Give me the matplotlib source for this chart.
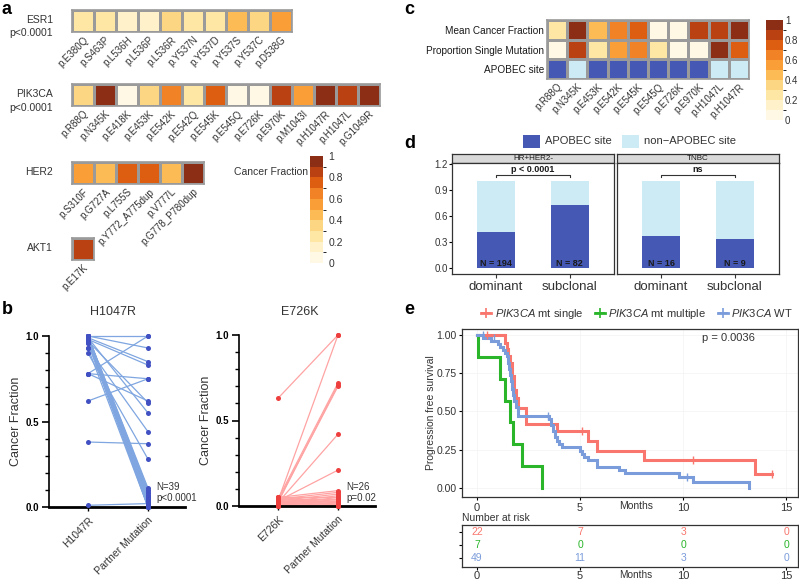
import numpy as np
import matplotlib
matplotlib.use('Agg')
import matplotlib.pyplot as plt
from matplotlib.colors import ListedColormap, BoundaryNorm
from matplotlib.patches import Rectangle
from matplotlib.lines import Line2D

plt.rcParams['font.family'] = ['Liberation Sans', 'DejaVu Sans']
plt.rcParams['mathtext.fontset'] = 'custom'
plt.rcParams['mathtext.it'] = 'Liberation Sans:italic'
plt.rcParams['mathtext.rm'] = 'Liberation Sans'

W, H = 799, 580

# ---- panel a data (cancer fraction per mutation)
esr1_labels = ['p.E380Q', 'p.S463P', 'p.L536H', 'p.L536P', 'p.L536R', 'p.Y537N',
               'p.Y537D', 'p.Y537S', 'p.Y537C', 'p.D538G']
esr1_vals = [0.25, 0.25, 0.15, 0.1, 0.35, 0.25, 0.25, 0.45, 0.35, 0.55]
pik3ca_labels = ['p.R88Q', 'p.N345K', 'p.E418K', 'p.E453K', 'p.E542K', 'p.E542Q',
                 'p.E545K', 'p.E545Q', 'p.E726K', 'p.E970K', 'p.M1043I', 'p.H1047R',
                 'p.H1047L', 'p.G1049R']
pik3ca_vals = [0.35, 0.95, 0.05, 0.35, 0.65, 0.25, 0.75, 0.05, 0.05, 0.85, 0.55,
               0.95, 0.85, 0.95]
her2_labels = ['p.S310F', 'p.G727A', 'p.L755S', 'p.Y772_A775dup', 'p.V777L',
               'p.G778_P780dup']
her2_vals = [0.55, 0.45, 0.75, 0.75, 0.45, 0.95]
akt1_labels = ['p.E17K']
akt1_vals = [0.85]

# ---- panel b data (paired cancer fractions)
h1047r_pre = [1.00, 1.00, 0.99, 0.98, 0.97, 0.99, 0.93, 0.90, 0.78, 0.78, 0.78, 0.62,
              0.38, 0.01,
              1.00, 1.00, 0.99, 0.99, 1.00, 0.98, 0.97, 1.00, 0.99, 0.98, 1.00, 0.97,
              0.96, 1.00, 0.99, 0.98, 1.00, 0.97, 0.99, 1.00, 0.98, 0.96, 0.99, 1.00,
              0.93]
h1047r_post = [1.00, 0.93, 0.85, 0.83, 0.61, 0.55, 0.44, 0.28, 1.00, 0.75, 0.62, 0.75,
               0.37, 0.02,
               0.11, 0.10, 0.09, 0.08, 0.07, 0.06, 0.05, 0.05, 0.04, 0.04, 0.03, 0.03,
               0.02, 0.02, 0.01, 0.01, 0.01, 0.00, 0.00, 0.00, 0.02, 0.01, 0.03, 0.06,
               0.00]
e726k_pre = [0.63, 0.03, 0.04, 0.02, 0.03, 0.02, 0.03,
             0.05, 0.04, 0.03, 0.02, 0.05, 0.01, 0.04, 0.00, 0.03, 0.02, 0.01, 0.04,
             0.00, 0.03, 0.02, 0.01, 0.05, 0.00, 0.04]
e726k_post = [1.00, 1.00, 0.72, 0.71, 0.70, 0.42, 0.21,
              0.09, 0.08, 0.07, 0.06, 0.05, 0.05, 0.04, 0.04, 0.03, 0.03, 0.02, 0.02,
              0.01, 0.01, 0.00, 0.00, 0.02, 0.00, 0.01]

# ---- panel c data
c_cols = ['p.R88Q', 'p.N345K', 'p.E453K', 'p.E542K', 'p.E545K', 'p.E545Q', 'p.E726K',
          'p.E970K', 'p.H1047L', 'p.H1047R']
c_rows = ['Mean Cancer Fraction', 'Proportion Single Mutation', 'APOBEC site']
mean_cf = [0.3, 0.95, 0.4, 0.7, 0.75, 0.05, 0.05, 0.8, 0.85, 0.95]
prop_single = [0.05, 0.85, 0.25, 0.55, 0.65, 0.25, 0.05, 0.05, 0.95, 0.75]
apobec = [1, 0, 1, 1, 1, 1, 1, 1, 0, 0]

# ---- panel d data
d_groups = ['dominant', 'subclonal']
hr_apobec = [0.41, 0.73]
tnbc_apobec = [0.375, 0.333]
hr_n = ['N = 194', 'N = 82']
tnbc_n = ['N = 16', 'N = 9']

# ---- panel e data (Kaplan-Meier steps)
single_t = [0, 1.35, 1.45, 1.5, 1.6, 1.7, 1.8, 1.9, 2.0, 2.4, 3.9, 5.4, 5.8, 8.1, 13.5, 14.3]
single_s = [1.0, 0.95, 0.91, 0.86, 0.82, 0.73, 0.64, 0.59, 0.52, 0.42, 0.37, 0.31, 0.24,
            0.18, 0.09, 0.09]
multi_t = [0, 0.05, 1.1, 1.35, 1.6, 1.75, 2.2, 3.15]
multi_s = [1.0, 0.857, 0.714, 0.571, 0.429, 0.286, 0.143, 0.0]
wt_t = [0, 0.3, 0.7, 1.0, 1.1, 1.25, 1.35, 1.45, 1.5, 1.55, 1.6, 1.65, 1.7, 1.75, 1.8,
        1.9, 2.0, 3.5, 3.6, 3.7, 3.8, 3.9, 4.0, 4.1, 5.0, 5.1, 5.2, 5.4, 5.8, 6.9, 7.2,
        9.8, 10.5, 13.2]
wt_s = [1.0, 0.98, 0.96, 0.94, 0.92, 0.90, 0.88, 0.86, 0.82, 0.78, 0.74, 0.70, 0.65,
        0.61, 0.57, 0.53, 0.47, 0.45, 0.41, 0.37, 0.33, 0.31, 0.29, 0.27, 0.24, 0.22,
        0.20, 0.18, 0.14, 0.12, 0.10, 0.07, 0.04, 0.0]
single_cens_t = [0.5, 5.1, 10.5, 14.3]
single_cens_s = [1.0, 0.37, 0.18, 0.09]
wt_cens_t = [0.3, 0.8, 3.45, 10.2]
wt_cens_s = [1.0, 0.98, 0.47, 0.07]
risk_times = [0, 5, 10, 15]
risk_single = [22, 7, 3, 0]
risk_multi = [7, 0, 0, 0]
risk_wt = [49, 11, 3, 0]

frac_cmap = ListedColormap(['#FFF8E4', '#FFF2CA', '#FEE7A4', '#FDD684', '#FDBB56',
                            '#FA9E38', '#F28226', '#DD5E10', '#BA4212', '#8B2E15'])
frac_norm = BoundaryNorm(np.linspace(0, 1, 11), 10)
ap_dark, ap_light = '#4558B3', '#CCEBF5'
c_red, c_green, c_blue = '#F8766D', '#2AB52A', '#7B9CDB'
txt = '#333333'

fig = plt.figure(figsize=(W / 100, H / 100), dpi=100)


def px_axes(x0, y0, x1, y1):
    return fig.add_axes([x0 / W, 1 - y1 / H, (x1 - x0) / W, (y1 - y0) / H])


def ftext(x, y, s, **kw):
    return fig.text(x / W, 1 - y / H, s, **kw)


def heat_row(x0, y0, labels, vals):
    n = len(vals)
    ax = px_axes(x0, y0, x0 + 22 * n, y0 + 22)
    m = ax.pcolormesh(np.array([vals]), cmap=frac_cmap, norm=frac_norm,
                      edgecolors='#9a9a9a', linewidth=1.0)
    ax.set_xlim(0, n)
    ax.set_ylim(0, 1)
    ax.set_xticks(np.arange(n) + 0.5)
    ax.set_xticklabels(labels, rotation=45, ha='right', va='top', rotation_mode='anchor',
                       fontsize=7, color=txt)
    ax.set_yticks([])
    ax.tick_params(length=0, pad=2)
    for s in ax.spines.values():
        s.set_color('#9a9a9a')
        s.set_linewidth(1.2)
    return m


# ---------------- panel a
ftext(2, 10, 'a', fontsize=13, fontweight='bold', va='center')
heat_row(72, 10, esr1_labels, esr1_vals)
ftext(53, 20, 'ESR1', fontsize=7.5, ha='right', va='center', color=txt)
ftext(53, 33, 'p<0.0001', fontsize=7.5, ha='right', va='center', color=txt)
heat_row(72, 84, pik3ca_labels, pik3ca_vals)
ftext(53, 94, 'PIK3CA', fontsize=7.5, ha='right', va='center', color=txt)
ftext(53, 108, 'p<0.0001', fontsize=7.5, ha='right', va='center', color=txt)
heat_row(72, 162, her2_labels, her2_vals)
ftext(53, 172, 'HER2', fontsize=7.5, ha='right', va='center', color=txt)
mesh = heat_row(72, 238, akt1_labels, akt1_vals)
ftext(53, 248, 'AKT1', fontsize=7.5, ha='right', va='center', color=txt)

cax = px_axes(310, 156, 323, 263)
cb = fig.colorbar(mesh, cax=cax, ticks=[0, 0.2, 0.4, 0.6, 0.8, 1])
cb.ax.set_yticklabels(['0', '0.2', '0.4', '0.6', '0.8', '1'])
cb.ax.tick_params(length=0, labelsize=7.5, pad=4, labelcolor=txt)
cb.outline.set_visible(False)
ftext(234, 172, 'Cancer Fraction', fontsize=7.5, va='center', color=txt)

# ---------------- panel b
ftext(2, 310, 'b', fontsize=13, fontweight='bold', va='center')


def pair_plot(box, pre, post, xlab, line_c, pt_c, title, tx, note):
    ax = px_axes(*box)
    for a, b in zip(pre, post):
        ax.plot([0, 1], [a, b], color=line_c, lw=0.9, zorder=1, clip_on=False)
    ax.scatter(np.zeros(len(pre)), pre, s=13, color=pt_c, zorder=3, clip_on=False, lw=0)
    ax.scatter(np.ones(len(post)), post, s=13, color=pt_c, zorder=3, clip_on=False, lw=0)
    ax.set_ylim(0, 1)
    bx = box[2] - box[0]
    ax.set_xlim(-0.65, -0.65 + bx / 60.0)
    for s in ['top', 'right']:
        ax.spines[s].set_visible(False)
    ax.spines['left'].set_linewidth(1.2)
    ax.spines['bottom'].set_linewidth(2.0)
    ax.set_yticks([0, 0.5, 1.0])
    ax.set_yticklabels(['0.0', '0.5', '1.0'], fontweight='bold', fontsize=7)
    ax.set_yticks(np.arange(0, 1.01, 0.1), minor=True)
    ax.tick_params(axis='y', which='major', length=5, width=1.2, pad=2)
    ax.tick_params(axis='y', which='minor', length=3, width=1.0)
    ax.set_xticks([0, 1])
    ax.set_xticklabels(xlab, rotation=45, ha='right', va='top', rotation_mode='anchor',
                       fontsize=7.5, color=txt)
    ax.tick_params(axis='x', length=3, width=1.0, pad=3)
    ax.set_ylabel('Cancer Fraction', fontsize=9, color=txt, labelpad=3)
    ftext(tx, 312, title, fontsize=9, ha='center', va='center', color=txt)
    ftext(box[0] + 107, 487, note[0], fontsize=7, va='center', color=txt)
    ftext(box[0] + 107, 498, note[1], fontsize=7, va='center', color=txt)


pair_plot((49, 336, 185, 507), h1047r_pre, h1047r_post, ['H1047R', 'Partner Mutation'],
          '#7FA6E0', '#4150C2', 'H1047R', 113, ['N=39', 'p<0.0001'])
pair_plot((239, 335, 375, 506), e726k_pre, e726k_post, ['E726K', 'Partner Mutation'],
          '#FFA3A3', '#EE3F3F', 'E726K', 300, ['N=26', 'p=0.02'])

# ---------------- panel c
ftext(404, 10, 'c', fontsize=13, fontweight='bold', va='center')
axc = px_axes(547, 20, 749, 79)
cm = axc.pcolormesh(np.arange(11), np.arange(3), np.array([mean_cf, prop_single]),
                    cmap=frac_cmap, norm=frac_norm, edgecolors='#9a9a9a', linewidth=1.0)
axc.pcolormesh(np.arange(11), np.array([2, 3]), np.array([apobec]),
               cmap=ListedColormap([ap_light, ap_dark]), vmin=0, vmax=1,
               edgecolors='#9a9a9a', linewidth=1.0)
axc.set_xlim(0, 10)
axc.set_ylim(3, 0)
axc.set_yticks([0.5, 1.5, 2.5])
axc.set_yticklabels(c_rows, fontsize=7.2, color='#1a1a1a')
axc.set_xticks(np.arange(10) + 0.5)
axc.set_xticklabels(c_cols, rotation=45, ha='right', va='top', rotation_mode='anchor',
                    fontsize=7, color=txt)
axc.tick_params(length=0, pad=2)
for s in axc.spines.values():
    s.set_color('#9a9a9a')
    s.set_linewidth(1.2)
cax2 = px_axes(766, 20, 783, 120)
cb2 = fig.colorbar(cm, cax=cax2, ticks=[0, 0.2, 0.4, 0.6, 0.8, 1])
cb2.ax.set_yticklabels(['0', '0.2', '0.4', '0.6', '0.8', '1'])
cb2.ax.tick_params(length=0, labelsize=7, pad=1.5, labelcolor=txt)
cb2.outline.set_visible(False)

# ---------------- panel d
ftext(404, 143, 'd', fontsize=13, fontweight='bold', va='center')
for (x0, col, lab) in [(523, ap_dark, 'APOBEC site'), (622, ap_light, 'non\u2212APOBEC site')]:
    fig.add_artist(Rectangle((x0 / W, 1 - 148 / H), 17 / W, 13 / H, facecolor=col,
                             edgecolor='none', transform=fig.transFigure))
    ftext(x0 + 22, 141, lab, fontsize=8, va='center', color=txt)

for i, (x0, x1, strip, vals, ns, sig) in enumerate([
        (452, 614, 'HR+HER2-', hr_apobec, hr_n, 'p < 0.0001'),
        (617, 779, 'TNBC', tnbc_apobec, tnbc_n, 'ns')]):
    axs = px_axes(x0, 154, x1, 163)
    axs.set_facecolor('#D9D9D9')
    axs.set_xticks([])
    axs.set_yticks([])
    for s in axs.spines.values():
        s.set_color('#333333')
        s.set_linewidth(0.9)
    axs.text(0.5, 0.5, strip, fontsize=5.8, ha='center', va='center', color='#1a1a1a',
             transform=axs.transAxes)
    ax = px_axes(x0, 163, x1, 274)
    xs = np.arange(1, 3)
    ax.bar(xs, [1, 1], width=0.52, color=ap_light)
    ax.bar(xs, vals, width=0.52, color=ap_dark)
    for xi, n in zip(xs, ns):
        ax.text(xi, 0.0, n, fontsize=6.5, fontweight='bold', ha='center', va='bottom',
                color='#1a1a1a')
    ax.plot([1, 1, 2, 2], [1.05, 1.075, 1.075, 1.05], color='#333333', lw=0.8)
    ax.text(1.5, 1.085, sig, fontsize=6.5, fontweight='bold', ha='center', va='bottom',
            color='#1a1a1a')
    ax.set_xlim(0.4, 2.6)
    ax.set_ylim(-0.069, 1.212)
    ax.set_xticks(xs)
    ax.set_xticklabels(d_groups, fontsize=9.5, color=txt)
    ax.tick_params(axis='x', length=3, pad=2, color='#333333')
    ax.set_yticks([0, 0.3, 0.6, 0.9, 1.2])
    if i == 0:
        ax.set_yticklabels(['0.0', '0.3', '0.6', '0.9', '1.2'], fontsize=7, color=txt)
        ax.tick_params(axis='y', length=2, pad=1)
    else:
        ax.set_yticklabels([])
        ax.tick_params(axis='y', length=0)
    for s in ax.spines.values():
        s.set_color('#333333')
        s.set_linewidth(0.9)

# ---------------- panel e
ftext(404, 310, 'e', fontsize=13, fontweight='bold', va='center')
handles = [Line2D([], [], color=c, lw=2, marker='+', ms=7, mew=1.2)
           for c in (c_red, c_green, c_blue)]
labels = [r'$\it{PIK3CA}$ mt single', r'$\it{PIK3CA}$ mt multiple', r'$\it{PIK3CA}$ WT']
fig.legend(handles, labels, loc='center', bbox_to_anchor=(637 / W, 1 - 314 / H), ncol=3,
           frameon=False, fontsize=8, handlelength=0.9, handletextpad=0.35,
           columnspacing=1.0, labelcolor=txt)

axe = px_axes(462, 329, 798, 497)
for t, s, c in [(single_t, single_s, c_red), (multi_t, multi_s, c_green), (wt_t, wt_s, c_blue)]:
    axe.step(t, s, where='post', color=c, lw=2.2, solid_joinstyle='miter')
axe.plot(single_cens_t, single_cens_s, ls='none', marker='|', ms=6, mew=1, color=c_red)
axe.plot(wt_cens_t, wt_cens_s, ls='none', marker='|', ms=6, mew=1, color=c_blue)
axe.set_xlim(-0.73, 15.58)
axe.set_ylim(-0.059, 1.039)
axe.set_yticks([0, 0.25, 0.5, 0.75, 1.0])
axe.set_yticklabels(['0.00', '0.25', '0.50', '0.75', '1.00'], fontsize=7.5, color=txt)
axe.set_xticks([0, 5, 10, 15])
axe.set_xticklabels(['0', '5', '10', '15'], fontsize=8, color=txt)
axe.tick_params(length=2, pad=2)
axe.grid(True, color='#F3F3F3', lw=0.5)
for s in axe.spines.values():
    s.set_color('#333333')
    s.set_linewidth(0.9)
axe.text(12.2, 0.98, 'p = 0.0036', fontsize=8, color=txt, ha='center', va='center')
ftext(431, 413, 'Progression free survival', fontsize=7.5, rotation=90, ha='center',
      va='center', color=txt)
ftext(636, 506, 'Months', fontsize=7.5, ha='center', va='center', color=txt)

ftext(462, 518, 'Number at risk', fontsize=7.5, va='center', color=txt)
axr = px_axes(462, 525, 798, 567)
for row, (vals, c) in enumerate([(risk_single, c_red), (risk_multi, c_green),
                                 (risk_wt, c_blue)]):
    for t, v in zip(risk_times, vals):
        axr.text(t, row, str(v), fontsize=7.5, color=c, ha='center', va='center')
axr.set_xlim(-0.73, 15.58)
axr.set_ylim(2.69, -0.54)
axr.set_yticks([0, 1, 2])
axr.set_yticklabels([])
axr.set_xticks([0, 5, 10, 15])
axr.set_xticklabels(['0', '5', '10', '15'], fontsize=8, color=txt)
axr.tick_params(length=2, pad=1)
for s in axr.spines.values():
    s.set_color('#333333')
    s.set_linewidth(0.9)
ftext(636, 574.5, 'Months', fontsize=7.2, ha='center', va='center', color=txt)

fig.savefig('out.png', dpi=100)
